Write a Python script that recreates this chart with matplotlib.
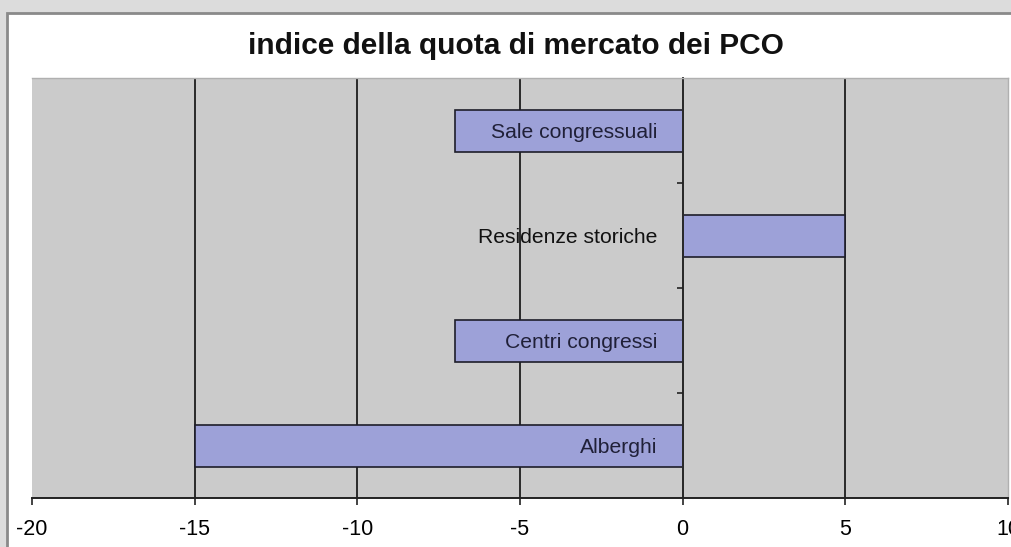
import matplotlib
matplotlib.use("Agg")
import matplotlib.pyplot as plt
from matplotlib.patches import Rectangle
from matplotlib.ticker import FixedLocator

plt.rcParams['font.family'] = ['Liberation Sans', 'DejaVu Sans']

categories = ["Alberghi", "Centri congressi", "Residenze storiche", "Sale congressuali"]
values = [-15, -7, 5, -7]
x_ticks = [-20, -15, -10, -5, 0, 5, 10]
title = "indice della quota di mercato dei PCO"

W, H = 1012, 547
fig = plt.figure(figsize=(W / 100, H / 100), dpi=100)
fig.patch.set_facecolor("#dcdcdc")

# white chart panel with grey border, running off the right and bottom edges
fig.patches.append(Rectangle((7 / W, -0.1), 1.2, 1 - 13 / H + 0.1,
                             transform=fig.transFigure, facecolor="white",
                             edgecolor="#8a8a8a", linewidth=2, zorder=-10))

ax = fig.add_axes([32 / W, 1 - 498 / H, (1008 - 32) / W, (498 - 78) / H])
ax.set_facecolor("#cbcbcb")
ax.set_axisbelow(False)

ypos = list(range(len(categories)))
ax.barh(ypos, values, height=0.4, color="#9da1d8", edgecolor="#1e1e2a",
        linewidth=1.2, zorder=2)

ax.set_xlim(x_ticks[0], x_ticks[-1])
ax.set_ylim(-0.5, len(categories) - 0.5)
ax.set_xticks(x_ticks)
ax.set_xticklabels([str(v) for v in x_ticks], fontsize=15.5)
ax.tick_params(axis="x", direction="out", length=5, width=1.2, pad=10,
               color="#222222")

# vertical grid lines
for v in x_ticks[1:-1]:
    ax.axvline(v, color="#2a2a2a", linewidth=1.4, zorder=1)

# category axis drawn through zero
ax.spines["left"].set_position(("data", 0))
ax.spines["left"].set_color("#2a2a2a")
ax.spines["left"].set_linewidth(1.4)
ax.spines["bottom"].set_color("#222222")
ax.spines["bottom"].set_linewidth(1.4)
for s in ("top", "right"):
    ax.spines[s].set_color("#b0b0b0")
    ax.spines[s].set_linewidth(1.0)

ax.set_yticks(ypos)
ax.set_yticklabels(categories, fontsize=15.2)
for lbl, v in zip(ax.get_yticklabels(), values):
    lbl.set_color("#202038" if v < 0 else "#111111")
ax.tick_params(axis="y", which="major", length=0, pad=18)
ax.yaxis.set_minor_locator(FixedLocator([i + 0.5 for i in ypos[:-1]]))
ax.tick_params(axis="y", which="minor", length=4, width=1.2, direction="out",
               color="#222222")

fig.text(516 / W, 1 - 46 / H, title, ha="center", va="center",
         fontsize=21.5, fontweight="bold", color="#111111")

fig.savefig("out.png", dpi=100, facecolor=fig.get_facecolor())
